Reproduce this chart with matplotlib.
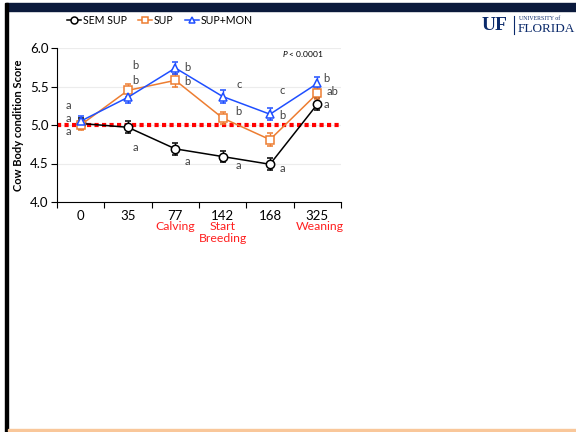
import matplotlib.pyplot as plt
from matplotlib.patches import Rectangle
from matplotlib.lines import Line2D

plt.rcParams['font.family'] = ['Lato', 'DejaVu Sans']
plt.rcParams['mathtext.fontset'] = 'custom'
plt.rcParams['mathtext.it'] = 'Lato:italic'

days = ['0', '35', '77', '142', '168', '325']
events = {2: 'Calving', 3: 'Start\nBreeding', 5: 'Weaning'}

sem_sup = [5.02, 4.97, 4.69, 4.59, 4.49, 5.27]
sup = [5.00, 5.45, 5.58, 5.09, 4.81, 5.41]
sup_mon = [5.05, 5.36, 5.74, 5.37, 5.14, 5.54]
sem_err = [0.07, 0.08, 0.08, 0.07, 0.08, 0.08]
sup_err = [0.07, 0.08, 0.08, 0.08, 0.08, 0.07]
mon_err = [0.07, 0.07, 0.08, 0.08, 0.08, 0.08]

# significance letters: (x position, y value, letter)
letters = [
    (-0.25, 5.25, 'a'), (-0.25, 5.08, 'a'), (-0.25, 4.91, 'a'),
    (1.16, 5.77, 'b'), (1.16, 5.58, 'b'), (1.16, 4.71, 'a'),
    (2.25, 5.75, 'b'), (2.25, 5.56, 'b'), (2.25, 4.52, 'a'),
    (3.34, 5.52, 'c'), (3.34, 5.18, 'b'), (3.34, 4.48, 'a'),
    (4.26, 5.45, 'c'), (4.27, 5.12, 'b'), (4.27, 4.43, 'a'),
    (5.2, 5.61, 'b'), (5.33, 5.43, 'ab'), (5.2, 5.26, 'a'),
]

fig = plt.figure(figsize=(5.76, 4.32), dpi=100)

# slide frame
fig.patches.append(Rectangle((6 / 576, 1 - 11 / 432), 570 / 576, 8 / 432,
                             transform=fig.transFigure, color='#0b1a3c', zorder=0))
fig.patches.append(Rectangle((5 / 576, 0), 3 / 576, 1 - 3 / 432,
                             transform=fig.transFigure, color='black', zorder=0))
fig.patches.append(Rectangle((8 / 576, 1 / 432), 568 / 576, 2.5 / 432,
                             transform=fig.transFigure, color='#f9c79a', zorder=0))

ax = fig.add_axes([57 / 576, 1 - 202 / 432, 284 / 576, 154 / 432])
x = list(range(len(days)))

series = [
    (sem_sup, sem_err, 'black', 'o', 'SEM SUP'),
    (sup, sup_err, '#ed7d31', 's', 'SUP'),
    (sup_mon, mon_err, '#1f4fff', '^', 'SUP+MON'),
]
handles = []
for vals, err, col, mk, lab in series:
    ax.errorbar(x, vals, yerr=err, color=col, lw=1.1, marker=mk, ms=6,
                mfc='white', mec=col, mew=1.1, ecolor=col, elinewidth=1,
                capsize=2.5, capthick=1, zorder=3)
    handles.append(Line2D([], [], color=col, lw=1.1, marker=mk, ms=5,
                          mfc='white', mec=col, mew=1.1, label=lab))

ax.axhline(5.0, color='#ff0000', lw=3, ls=(0, (1, 0.8)), zorder=2)

for lx, ly, t in letters:
    ax.text(lx, ly, t, ha='center', va='center', fontsize=8, color='#404040')

ax.text(4.7, 5.92, r'$P$ < 0.0001', ha='center', va='center', fontsize=6)

ax.set_xlim(-0.5, 5.5)
ax.set_ylim(4.0, 6.0)
ax.set_yticks([4.0, 4.5, 5.0, 5.5, 6.0])
ax.set_yticklabels(['4.0', '4.5', '5.0', '5.5', '6.0'])
ax.yaxis.grid(True, color='#ececec', lw=0.8)
ax.set_axisbelow(True)

ax.set_xticks([i - 0.5 for i in range(len(days) + 1)])
ax.set_xticklabels([])
ax.set_xticks(x, minor=True)
ax.set_xticklabels(days, minor=True)
ax.tick_params(axis='x', which='major', length=4, direction='out', color='black')
ax.tick_params(axis='x', which='minor', length=0, pad=6, labelsize=9.5)
ax.tick_params(axis='y', length=4, direction='out', labelsize=9.5, pad=2)

for s in ['top', 'right']:
    ax.spines[s].set_visible(False)

xt = ax.get_xaxis_transform()
for i, name in events.items():
    xpos = i + 0.06 if i == 5 else i
    ax.text(xpos, -0.125, name, transform=xt, ha='center', va='top',
            fontsize=8.8, color='#ff2020', linespacing=1.1)

ax.set_ylabel('Cow Body condition Score', fontsize=8, fontweight='bold', labelpad=4)

fig.legend(handles=handles, loc='center', bbox_to_anchor=(160 / 576, 1 - 20 / 432),
           ncol=3, frameon=False, fontsize=7.6, handlelength=1.3, handletextpad=0.15,
           columnspacing=1.1)

# UF wordmark
fig.text(482 / 576, 1 - 25 / 432, 'UF', fontsize=14, fontweight='bold',
         family='Liberation Serif', color='#0b2a6b', ha='left', va='center')
fig.add_artist(Line2D([514 / 576, 514 / 576], [1 - 16 / 432, 1 - 34 / 432],
                      color='#0b2a6b', lw=0.8, transform=fig.transFigure))
fig.text(519 / 576, 1 - 18 / 432, 'UNIVERSITY of', fontsize=4.2,
         family='Liberation Serif', color='#0b2a6b', ha='left', va='center')
fig.text(518 / 576, 1 - 28.5 / 432, 'FLORIDA', fontsize=9.5,
         family='Liberation Serif', color='#0b2a6b', ha='left', va='center')

fig.savefig('out.png', dpi=100)
